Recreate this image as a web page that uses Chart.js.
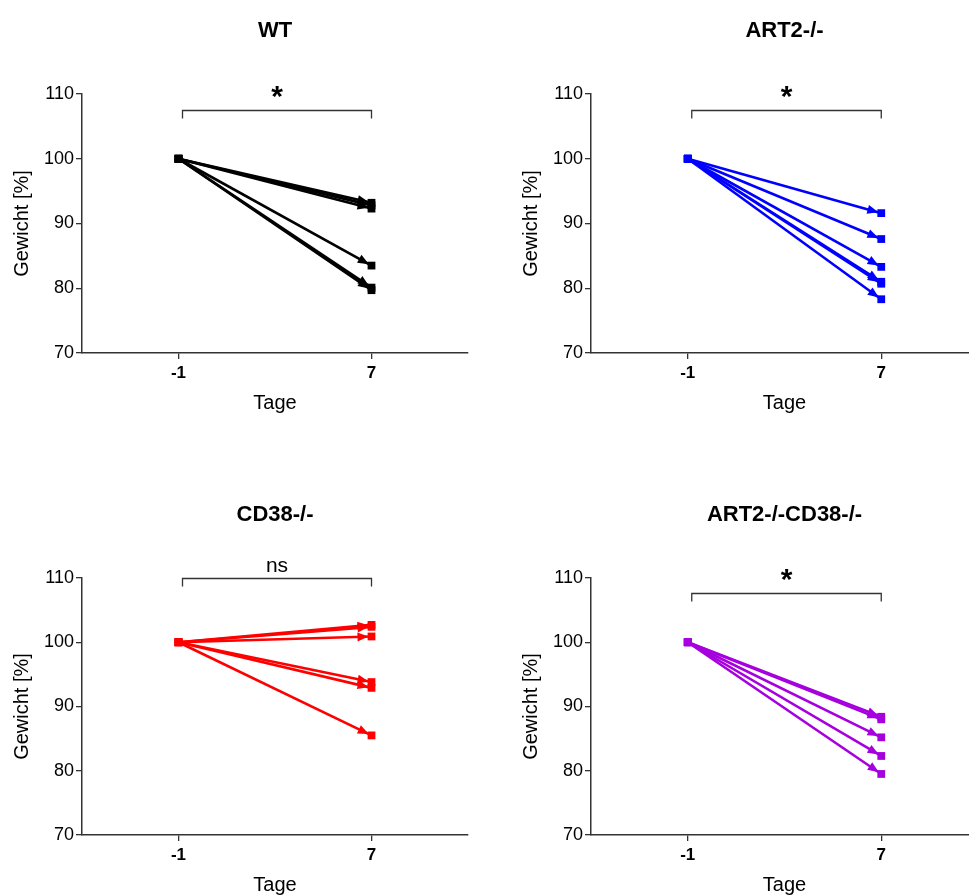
<!DOCTYPE html>
<html>
<head>
<meta charset="utf-8">
<script src="https://cdn.jsdelivr.net/npm/chart.js@4.4.1/dist/chart.umd.min.js"></script>
<style>
  html, body { margin: 0; padding: 0; background: #fff; overflow: hidden; width: 969px; height: 896px; }
  .panel { position: absolute; }
</style>
</head>
<body>
<div class="panel" style="left:0px;top:0px"><canvas id="c0" width="485" height="448"></canvas></div>
<div class="panel" style="left:485px;top:0px"><canvas id="c1" width="500" height="448"></canvas></div>
<div class="panel" style="left:0px;top:484px"><canvas id="c2" width="485" height="446"></canvas></div>
<div class="panel" style="left:485px;top:484px"><canvas id="c3" width="500" height="446"></canvas></div>
<script>
// Body weight relative to day -1, one line per mouse
const days = [-1, 7];
const dayTicks = [-1, 7];
const weightTicks = [70, 80, 90, 100, 110];
const startWeight = 100;

const groupNames = ['WT', 'ART2-/-', 'CD38-/-', 'ART2-/-CD38-/-'];
const wtDay7 = [93.2, 92.8, 92.3, 83.5, 80.1, 79.7];
const art2Day7 = [91.6, 87.6, 83.3, 81.0, 80.7, 78.3];
const cd38Day7 = [102.7, 102.4, 100.9, 93.8, 92.9, 85.5];
const dkoDay7 = [88.4, 88.0, 85.2, 82.3, 79.5];
const significance = ['*', '*', 'ns', '*'];
const bracketLevel = [107.5, 107.5, 110, 107.6];

const groupColors = ['#000000', '#0000FF', '#FF0000', '#A500DD'];
const FONT = 'Arial, "Liberation Sans", sans-serif';
const AXIS = '#333333';

// Arrowhead at the day-7 end of every line, just before the square
const arrowPlugin = {
  id: 'arrowheads',
  afterDatasetsDraw(chart) {
    const ctx = chart.ctx;
    chart.data.datasets.forEach((ds, i) => {
      const meta = chart.getDatasetMeta(i);
      const a = meta.data[0], b = meta.data[1];
      let dx = b.x - a.x, dy = b.y - a.y;
      const len = Math.hypot(dx, dy);
      dx /= len; dy /= len;
      const tipX = b.x - dx * 3, tipY = b.y - dy * 3;
      const baseX = tipX - dx * 11, baseY = tipY - dy * 11;
      const nx = -dy, ny = dx;
      ctx.save();
      ctx.fillStyle = ds.borderColor;
      ctx.beginPath();
      ctx.moveTo(tipX, tipY);
      ctx.lineTo(baseX + nx * 4.5, baseY + ny * 4.5);
      ctx.lineTo(baseX - nx * 4.5, baseY - ny * 4.5);
      ctx.closePath();
      ctx.fill();
      ctx.restore();
    });
  }
};

// Panel title and significance bracket
const annotatePlugin = {
  id: 'annotate',
  afterDraw(chart, args, opts) {
    const ctx = chart.ctx;
    const area = chart.chartArea;
    const xs = chart.scales.x, ys = chart.scales.y;
    ctx.save();
    ctx.fillStyle = '#000';
    ctx.font = 'bold 22px ' + FONT;
    ctx.textAlign = 'center';
    ctx.textBaseline = 'middle';
    ctx.fillText(opts.title, (area.left + area.right) / 2, 31);

    const x1 = xs.getPixelForValue(dayTicks[0]) + 4;
    const x2 = xs.getPixelForValue(dayTicks[1]);
    const y = Math.round(ys.getPixelForValue(opts.level)) + 0.5;
    ctx.strokeStyle = AXIS;
    ctx.lineWidth = 1.3;
    ctx.beginPath();
    ctx.moveTo(x1, y + 8);
    ctx.lineTo(x1, y);
    ctx.lineTo(x2, y);
    ctx.lineTo(x2, y + 8);
    ctx.stroke();

    const cx = (x1 + x2) / 2;
    ctx.textBaseline = 'alphabetic';
    if (opts.label === '*') {
      ctx.font = 'bold 30px ' + FONT;
      ctx.fillText(opts.label, cx, y - 5);
    } else {
      ctx.font = '21px ' + FONT;
      ctx.fillText(opts.label, cx, y - 7);
    }
    ctx.restore();
  }
};

function makeDatasets(values, color) {
  return values.map(v => ({
    data: [{ x: days[0], y: startWeight }, { x: days[1], y: v }],
    borderColor: color,
    backgroundColor: color,
    borderWidth: 2.6,
    pointStyle: 'rect',
    pointRadius: 5.5,
    pointHoverRadius: 5.5,
    pointBorderWidth: 0,
    tension: 0
  }));
}

function makeChart(id, values, idx, axisLeft, rightPad, chartBottom) {
  const h = document.getElementById(id).height;
  return new Chart(document.getElementById(id), {
    type: 'line',
    data: { datasets: makeDatasets(values, groupColors[idx]) },
    options: {
      responsive: false,
      animation: false,
      events: [],
      layout: { padding: { top: 94, left: 0, right: rightPad, bottom: 0 } },
      plugins: {
        legend: { display: false },
        tooltip: { enabled: false },
        annotate: { title: groupNames[idx], label: significance[idx], level: bracketLevel[idx] }
      },
      scales: {
        x: {
          type: 'linear',
          min: -5, max: 11,
          afterBuildTicks: s => { s.ticks = dayTicks.map(v => ({ value: v })); },
          afterFit: s => { s.height = h - chartBottom; },
          grid: { drawOnChartArea: false, drawTicks: true, tickLength: 6, color: AXIS, lineWidth: 1.3 },
          border: { display: true, color: AXIS, width: 1.5 },
          ticks: { color: '#000', font: { family: FONT, size: 17, weight: 'bold' }, padding: 4, maxRotation: 0 },
          title: { display: true, text: 'Tage', color: '#000', font: { family: FONT, size: 20 }, padding: { top: 0, bottom: h - chartBottom - 62 } }
        },
        y: {
          min: 70, max: 110,
          afterBuildTicks: s => { s.ticks = weightTicks.map(v => ({ value: v })); },
          afterFit: s => { s.width = axisLeft; },
          grid: { drawOnChartArea: false, drawTicks: true, tickLength: 6, color: AXIS, lineWidth: 1.3 },
          border: { display: true, color: AXIS, width: 1.5 },
          ticks: { color: '#000', font: { family: FONT, size: 18 }, padding: 2 },
          title: { display: true, text: 'Gewicht [%]', color: '#000', font: { family: FONT, size: 20 }, padding: { top: axisLeft - 72, bottom: 0 } }
        }
      }
    },
    plugins: [arrowPlugin, annotatePlugin]
  });
}

makeChart('c0', wtDay7, 0, 82, 17, 353);
makeChart('c1', art2Day7, 1, 106, 7, 353);
makeChart('c2', cd38Day7, 2, 82, 17, 351);
makeChart('c3', dkoDay7, 3, 106, 7, 351);
</script>
</body>
</html>
